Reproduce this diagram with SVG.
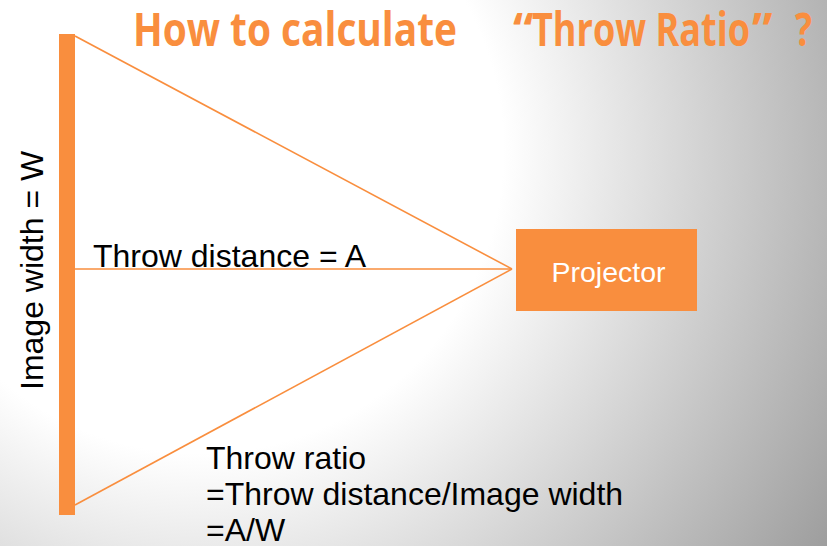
<svg xmlns="http://www.w3.org/2000/svg" width="827" height="546" viewBox="0 0 827 546">
<defs>
<radialGradient id="bg" gradientUnits="userSpaceOnUse" cx="200" cy="150" r="740">
<stop offset="0" stop-color="#ffffff"/>
<stop offset="0.41" stop-color="#ffffff"/>
<stop offset="1" stop-color="#9e9e9e"/>
</radialGradient>
<style>
.t{font-family:"Liberation Sans",Arial,sans-serif;font-size:32px;fill:#000}
.title{font-family:"Open Sans","Noto Sans",sans-serif;font-weight:bold;font-size:46px;fill:#F98E3E}
.ln{stroke:#F98E3E;stroke-width:1.6;fill:none}
</style>
</defs>
<rect x="0" y="0" width="827" height="546" fill="url(#bg)"/>
<g id="title">
<text class="title" x="133" y="46" textLength="324" lengthAdjust="spacingAndGlyphs">How to calculate</text>
<text class="title" x="513" y="46">“</text>
<text class="title" x="532" y="46" textLength="218" lengthAdjust="spacingAndGlyphs">Throw Ratio</text>
<text class="title" x="752" y="46">”</text>
<text class="title" x="795" y="46" textLength="17" lengthAdjust="spacingAndGlyphs">?</text>
</g>
<g id="connectors">
<line class="ln" x1="75" y1="36" x2="512" y2="269"/>
<line class="ln" x1="75" y1="505" x2="512" y2="269"/>
<line class="ln" x1="75" y1="269" x2="512" y2="269"/>
</g>
<g id="screen">
<rect x="59" y="34" width="16" height="481" fill="#F98E3E"/>
<text class="t" transform="translate(43,390) rotate(-90)">Image width = W</text>
</g>
<g id="projector">
<rect x="516" y="229" width="181" height="82" fill="#F98E3E"/>
<text x="608.5" y="282" text-anchor="middle" style="font-family:'Liberation Sans',Arial,sans-serif;font-size:28.5px;fill:#ffffff">Projector</text>
</g>
<g id="labels">
<text class="t" x="93" y="267">Throw distance = A</text>
<text class="t" x="206" y="469">Throw ratio</text>
<text class="t" x="206" y="505">=Throw distance/Image width</text>
<text class="t" x="206" y="541">=A/W</text>
</g>
</svg>
